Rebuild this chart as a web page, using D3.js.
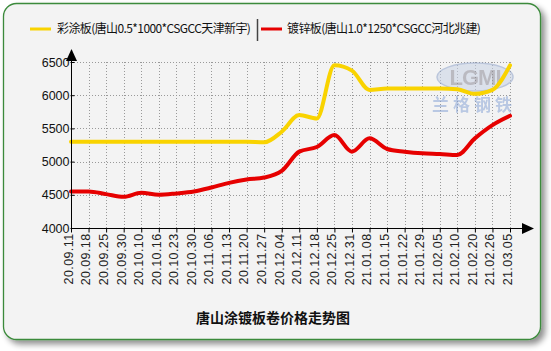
<!DOCTYPE html>
<html>
<head>
<meta charset="utf-8">
<script src="https://cdn.jsdelivr.net/npm/d3@7"></script>
<style>
  html, body { margin: 0; padding: 0; background: #fff; }
  svg { display: block; font-family: "Liberation Sans", Arial, "Noto Sans CJK SC", sans-serif; }
</style>
</head>
<body>
<svg id="chart" width="551" height="351"></svg>
<script>
// Tangshan coated / galvanized coil price trend

const dates = ['20.09.11','20.09.18','20.09.25','20.09.30','20.10.10','20.10.16','20.10.23',
  '20.10.30','20.11.06','20.11.13','20.11.20','20.11.27','20.12.04','20.12.11','20.12.18',
  '20.12.25','20.12.31','21.01.08','21.01.15','21.01.22','21.01.29','21.02.05','21.02.10',
  '21.02.20','21.02.26','21.03.05'];

const colorCoated = [5300,5300,5300,5300,5300,5300,5300,5300,5300,5300,5300,5290,5450,
  5700,5650,6450,6370,6080,6100,6100,6100,6100,6090,6020,6080,6450];

const galvanized = [4550,4550,4510,4470,4530,4500,4520,4550,4610,4680,4730,4760,4860,
  5150,5220,5400,5150,5350,5190,5150,5125,5115,5100,5350,5550,5690];

const seriesNames = ['彩涂板(唐山0.5*1000*CSGCC天津新宇)', '镀锌板(唐山1.0*1250*CSGCC河北兆建)'];
const seriesColors = ['#f9d300', '#e60000'];
const yTicks = [4000, 4500, 5000, 5500, 6000, 6500];
const title = '唐山涂镀板卷价格走势图';

const svg = d3.select('#chart');
const plotL = 71, plotR = 510, plotT = 62, plotB = 228;

// ── Frame with shadow ─────────────────────────────────────────────
const defs = svg.append('defs');
const f = defs.append('filter').attr('id', 'shadow')
  .attr('x', '-5%').attr('y', '-5%').attr('width', '115%').attr('height', '115%');
f.append('feGaussianBlur').attr('in', 'SourceAlpha').attr('stdDeviation', 3);
f.append('feOffset').attr('dx', 4).attr('dy', 4).attr('result', 'b');
f.append('feComponentTransfer').append('feFuncA').attr('type', 'linear').attr('slope', 0.45);
const fm = f.append('feMerge');
fm.append('feMergeNode');
fm.append('feMergeNode').attr('in', 'SourceGraphic');

svg.append('rect')
  .attr('x', 3.5).attr('y', 3.5).attr('width', 537).attr('height', 336)
  .attr('rx', 13).attr('ry', 13)
  .attr('fill', '#f3f3f3').attr('stroke', '#3b8a3b').attr('stroke-width', 1.3)
  .attr('filter', 'url(#shadow)');

// ── Scales ────────────────────────────────────────────────────────
const x = d3.scalePoint().domain(dates).range([plotL, plotR]);
const y = d3.scaleLinear().domain([4000, 6500]).range([plotB, plotT]);

// ── Grid ──────────────────────────────────────────────────────────
const grid = svg.append('g');
grid.selectAll('.hg').data(yTicks.slice(1)).join('line')
  .attr('x1', plotL).attr('x2', plotR)
  .attr('y1', d => Math.round(y(d)) + 0.5).attr('y2', d => Math.round(y(d)) + 0.5)
  .attr('stroke', '#999').attr('stroke-width', 1).attr('stroke-dasharray', '1,2');
grid.selectAll('.vg').data(dates.slice(1)).join('line')
  .attr('x1', d => Math.round(x(d)) + 0.5).attr('x2', d => Math.round(x(d)) + 0.5)
  .attr('y1', plotT).attr('y2', plotB)
  .attr('stroke', '#999').attr('stroke-width', 1).attr('stroke-dasharray', '1,2');

// ── Watermark ─────────────────────────────────────────────────────
const wm = svg.append('g').attr('opacity', 0.55);
wm.append('ellipse').attr('cx', 475).attr('cy', 77).attr('rx', 38).attr('ry', 14)
  .attr('fill', '#c9d3e6').attr('stroke', '#8ea2c9').attr('stroke-width', 1.5);
wm.append('text').attr('x', 475).attr('y', 85).attr('text-anchor', 'middle')
  .attr('font-size', 22).attr('font-weight', 'bold').attr('fill', '#8d8d9a')
  .attr('letter-spacing', -1).text('LGMI');
wm.append('text').attr('x', 474).attr('y', 111).attr('text-anchor', 'middle')
  .attr('font-family', '"Noto Sans CJK SC"').attr('font-size', 17).attr('font-weight', 'bold')
  .attr('fill', '#8aa5d6').attr('letter-spacing', 4).text('兰格钢铁');

// ── Lines ─────────────────────────────────────────────────────────
const line = d3.line()
  .x((d, i) => x(dates[i]))
  .y(d => y(d))
  .curve(d3.curveMonotoneX);

[colorCoated, galvanized].forEach((vals, k) => {
  svg.append('path').datum(vals)
    .attr('d', line)
    .attr('fill', 'none')
    .attr('stroke', seriesColors[k])
    .attr('stroke-width', 4)
    .attr('stroke-linejoin', 'round')
    .attr('stroke-linecap', 'round');
});

// ── Axes ──────────────────────────────────────────────────────────
const yAxis = d3.axisLeft(y).tickValues(yTicks).tickFormat(d3.format('d'))
  .tickSize(4).tickSizeOuter(0);
const yg = svg.append('g').attr('transform', `translate(${plotL + 0.5},0)`).call(yAxis);
yg.select('.domain').attr('stroke', '#000').attr('d', `M0,${plotB}V${plotT - 8}`);
yg.selectAll('.tick line').attr('x2', 3).attr('x1', -1).attr('stroke', '#000');
yg.selectAll('.tick text').attr('x', -2).attr('font-size', 12.5).attr('fill', '#111')
  .attr('font-family', '"Liberation Sans", Arial, sans-serif');

const xAxis = d3.axisBottom(x).tickSize(4).tickSizeOuter(0);
const xg = svg.append('g').attr('transform', `translate(0,${plotB + 0.5})`).call(xAxis);
xg.select('.domain').attr('stroke', '#000').attr('d', `M${plotL},0H${plotR + 12}`);
xg.selectAll('.tick line').attr('stroke', '#000');
xg.selectAll('.tick text')
  .attr('transform', 'rotate(-90)')
  .attr('text-anchor', 'end')
  .attr('x', -5).attr('y', -3).attr('dy', '0.35em')
  .attr('dx', 0)
  .attr('font-size', 12.5).attr('letter-spacing', 0.4).attr('fill', '#222')
  .attr('font-family', '"Liberation Sans", Arial, sans-serif');

// Arrow heads
svg.append('path').attr('d', `M${plotL + 0.5},${plotT - 13}L${plotL - 5},${plotT - 1}L${plotL + 6},${plotT - 1}Z`)
  .attr('fill', '#000');
svg.append('path').attr('d', `M${plotR + 24},${plotB + 0.5}L${plotR + 12},${plotB - 5}L${plotR + 12},${plotB + 6}Z`)
  .attr('fill', '#000');

// ── Legend ────────────────────────────────────────────────────────
const lg = svg.append('g').attr('font-family', '"Noto Sans CJK SC", sans-serif').attr('font-size', 12);
const legendPos = [{ lx: 30, tx: 57 }, { lx: 261, tx: 287 }];
seriesNames.forEach((name, k) => {
  lg.append('line').attr('x1', legendPos[k].lx).attr('x2', legendPos[k].lx + 21)
    .attr('y1', 29).attr('y2', 29)
    .attr('stroke', seriesColors[k]).attr('stroke-width', 3);
  lg.append('text').attr('x', legendPos[k].tx).attr('y', 29).attr('dy', '0.35em')
    .attr('fill', '#111').attr('letter-spacing', -0.6).text(name);
});
lg.append('line').attr('x1', 257.5).attr('x2', 257.5).attr('y1', 19).attr('y2', 41)
  .attr('stroke', '#444').attr('stroke-width', 1.5);

// ── Title ─────────────────────────────────────────────────────────
svg.append('text')
  .attr('x', 273).attr('y', 323).attr('text-anchor', 'middle')
  .attr('font-family', '"Noto Sans CJK SC", sans-serif')
  .attr('font-size', 14).attr('font-weight', 'bold').attr('fill', '#111')
  .text(title);
</script>
</body>
</html>
